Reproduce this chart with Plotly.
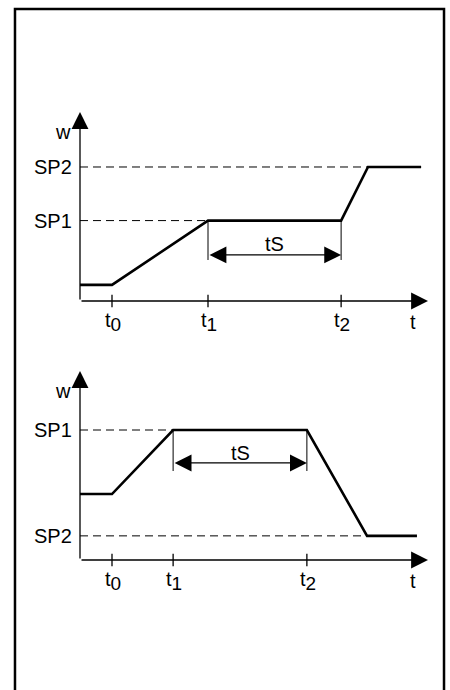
import plotly.graph_objects as go

# setpoint ramp diagrams: time (arbitrary units) vs setpoint w
top_t = [0.0, 1.0, 4.0, 8.16, 9.0, 10.66]
top_w = [0.6, 0.6, 3.0, 3.0, 5.0, 5.0]
top_sp = {"SP1": 3.0, "SP2": 5.0}
top_sp_end = {"SP1": 4.0, "SP2": 9.0}
top_ticks = [1.0, 4.0, 8.16]

bot_t = [0.0, 1.0, 2.91, 7.09, 8.97, 10.53]
bot_w = [2.46, 2.46, 4.85, 4.85, 0.9, 0.9]
bot_sp = {"SP1": 4.85, "SP2": 0.9}
bot_sp_end = {"SP1": 2.91, "SP2": 8.97}
bot_ticks = [1.0, 2.91, 7.09]

tick_subs = ["0", "1", "2"]
axis_end_t = 10.875
axis_end_w = 7.05

FONT = "Liberation Sans, Arial, sans-serif"
FS = 20
BLACK = "#000000"
HEAD = dict(arrowhead=2, arrowsize=2.6, arrowwidth=1.3, arrowcolor=BLACK, standoff=0, startstandoff=0)

fig = go.Figure()


def diagram(t, w, sp, sp_end, ticks, ts_w, bracket_w, ts_label_w, xr, yr):
    # dashed setpoint guides
    for name, level in sp.items():
        fig.add_trace(go.Scatter(x=[0, sp_end[name]], y=[level, level], mode="lines",
                                 line=dict(color=BLACK, width=1, dash="8px,5px"),
                                 xaxis=xr, yaxis=yr, hoverinfo="skip"))
        fig.add_annotation(x=-0.2, y=level, xref=xr, yref=yr, text=name, showarrow=False,
                           xanchor="right", yanchor="middle", font=dict(family=FONT, size=FS, color=BLACK))
    # tS bracket verticals
    t1, t2 = ticks[1], ticks[2]
    level1 = sp["SP1"]
    for tt in (t1, t2):
        fig.add_trace(go.Scatter(x=[tt, tt], y=[level1, bracket_w], mode="lines",
                                 line=dict(color=BLACK, width=1), xaxis=xr, yaxis=yr, hoverinfo="skip"))
    fig.add_annotation(x=t2, y=ts_w, ax=t1, ay=ts_w, xref=xr, yref=yr, axref=xr, ayref=yr,
                       text="", showarrow=True, arrowside="end+start", startarrowhead=2,
                       startarrowsize=2.6, **HEAD)
    fig.add_annotation(x=(t1 + t2) / 2, y=ts_label_w, xref=xr, yref=yr, text="tS", showarrow=False,
                       font=dict(family=FONT, size=FS, color=BLACK))
    # axes with arrows
    fig.add_annotation(x=axis_end_t, y=0, ax=0, ay=0, xref=xr, yref=yr, axref=xr, ayref=yr,
                       text="", showarrow=True, **HEAD)
    fig.add_annotation(x=0, y=axis_end_w, ax=0, ay=0, xref=xr, yref=yr, axref=xr, ayref=yr,
                       text="", showarrow=True, **HEAD)
    # tick marks crossing the time axis
    fig.add_trace(go.Scatter(x=ticks, y=[0] * len(ticks), mode="markers",
                             marker=dict(symbol="line-ns", size=9, line=dict(color=BLACK, width=1.3)),
                             xaxis=xr, yaxis=yr, hoverinfo="skip"))
    for tt, sub in zip(ticks, tick_subs):
        lab = 't<sub><span style="font-size:19px">' + sub + '</span></sub>'
        fig.add_annotation(x=tt + 0.02, y=-0.8, xref=xr, yref=yr, text=lab, showarrow=False,
                           xanchor="center", yanchor="middle", font=dict(family=FONT, size=FS, color=BLACK))
    fig.add_annotation(x=10.4, y=-0.8, xref=xr, yref=yr, text="t", showarrow=False,
                       font=dict(family=FONT, size=FS, color=BLACK))
    fig.add_annotation(x=-0.53, y=6.31, xref=xr, yref=yr, text="w", showarrow=False,
                       font=dict(family=FONT, size=FS, color=BLACK))
    # setpoint curve
    fig.add_trace(go.Scatter(x=t, y=w, mode="lines", line=dict(color=BLACK, width=2.6),
                             xaxis=xr, yaxis=yr, hoverinfo="skip"))


diagram(top_t, top_w, top_sp, top_sp_end, top_ticks, 1.72, 1.53, 2.13, "x", "y")
diagram(bot_t, bot_w, bot_sp, bot_sp_end, bot_ticks, 3.62, 3.32, 4.01, "x2", "y2")

ax_common = dict(visible=False, fixedrange=True)
fig.update_layout(
    width=450, height=690,
    margin=dict(l=0, r=0, t=0, b=0),
    paper_bgcolor="white", plot_bgcolor="white",
    showlegend=False,
    xaxis=dict(domain=[0, 1], range=[-2.5, 11.5625], anchor="y", **ax_common),
    yaxis=dict(domain=[0.5, 1], range=[-1.642, 11.231], anchor="x", **ax_common),
    xaxis2=dict(domain=[0, 1], range=[-2.5, 11.5625], anchor="y2", **ax_common),
    yaxis2=dict(domain=[0, 0.5], range=[-4.851, 8.022], anchor="x2", **ax_common),
    shapes=[dict(type="path", xref="paper", yref="paper",
                 path="M 0.0333,0 L 0.0333,0.987 L 0.9867,0.987 L 0.9867,0",
                 line=dict(color=BLACK, width=2.5))],
)

fig.write_html("out.html", config={"displayModeBar": False},
               post_script="document.body.style.margin='0';")
